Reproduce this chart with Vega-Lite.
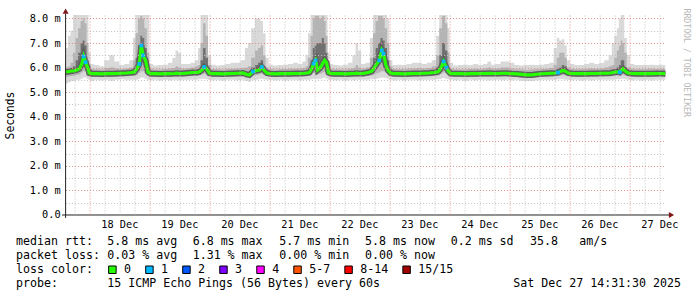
{
  "$schema": "https://vega.github.io/schema/vega-lite/v6.json",
  "background": "white",
  "padding": {"left": 3.6, "top": 8, "right": 0, "bottom": 0},
  "config": {"view": {"stroke": null}},
  "spacing": 5,
  "datasets": {
    "ping": [
      {"t":"2025-12-17T14:00Z","lo":5.3,"a":5.62,"m":5.82,"c":5.88,"b":5.98,"hi":6.5},
      {"t":"2025-12-17T15:00Z","lo":5.35,"a":5.63,"m":5.83,"c":5.9,"b":6.0,"hi":6.8},
      {"t":"2025-12-17T16:00Z","lo":5.4,"a":5.64,"m":5.84,"c":5.92,"b":6.05,"hi":7.3},
      {"t":"2025-12-17T17:00Z","lo":5.45,"a":5.66,"m":5.86,"c":5.95,"b":6.2,"hi":7.5},
      {"t":"2025-12-17T18:00Z","lo":5.45,"a":5.67,"m":5.87,"c":6.05,"b":6.6,"hi":8.3},
      {"t":"2025-12-17T19:00Z","lo":5.5,"a":5.7,"m":5.9,"c":6.3,"b":7.2,"hi":8.3},
      {"t":"2025-12-17T20:00Z","lo":5.5,"a":5.72,"m":5.95,"c":6.6,"b":7.6,"hi":8.3},
      {"t":"2025-12-17T21:00Z","lo":5.55,"a":5.8,"m":6.15,"c":7.0,"b":7.9,"hi":8.3},
      {"t":"2025-12-17T21:45Z","lo":5.6,"a":5.85,"m":6.45,"c":7.1,"b":8.0,"hi":8.3,"l":1},
      {"t":"2025-12-17T22:30Z","lo":5.6,"a":5.85,"m":6.22,"c":6.9,"b":7.8,"hi":8.3,"l":1},
      {"t":"2025-12-17T23:20Z","lo":5.55,"a":5.72,"m":6.0,"c":6.3,"b":7.0,"hi":8.3},
      {"t":"2025-12-18T00:00Z","lo":5.5,"a":5.65,"m":5.78,"c":5.85,"b":6.1,"hi":6.6},
      {"t":"2025-12-18T01:00Z","lo":5.45,"a":5.62,"m":5.75,"c":5.81,"b":5.94,"hi":6.15},
      {"t":"2025-12-18T03:00Z","lo":5.5,"a":5.63,"m":5.75,"c":5.81,"b":5.93,"hi":6.1},
      {"t":"2025-12-18T05:00Z","lo":5.48,"a":5.62,"m":5.74,"c":5.8,"b":5.92,"hi":6.05},
      {"t":"2025-12-18T07:00Z","lo":5.5,"a":5.63,"m":5.75,"c":5.81,"b":5.98,"hi":6.3},
      {"t":"2025-12-18T09:00Z","lo":5.46,"a":5.62,"m":5.75,"c":5.81,"b":6.0,"hi":6.5},
      {"t":"2025-12-18T11:00Z","lo":5.5,"a":5.63,"m":5.76,"c":5.82,"b":5.96,"hi":6.25},
      {"t":"2025-12-18T13:00Z","lo":5.52,"a":5.64,"m":5.77,"c":5.83,"b":5.94,"hi":6.1},
      {"t":"2025-12-18T15:00Z","lo":5.5,"a":5.65,"m":5.78,"c":5.84,"b":5.96,"hi":6.15},
      {"t":"2025-12-18T17:00Z","lo":5.5,"a":5.66,"m":5.8,"c":5.86,"b":6.0,"hi":6.3},
      {"t":"2025-12-18T18:00Z","lo":5.5,"a":5.66,"m":5.82,"c":5.95,"b":6.3,"hi":7.2},
      {"t":"2025-12-18T19:00Z","lo":5.5,"a":5.7,"m":5.95,"c":6.4,"b":7.4,"hi":8.3},
      {"t":"2025-12-18T20:00Z","lo":5.55,"a":5.78,"m":6.15,"c":6.9,"b":8.0,"hi":8.3,"l":1},
      {"t":"2025-12-18T20:50Z","lo":5.6,"a":5.85,"m":6.9,"c":7.3,"b":8.1,"hi":8.3,"l":1},
      {"t":"2025-12-18T21:30Z","lo":5.6,"a":5.85,"m":6.5,"c":7.2,"b":8.0,"hi":8.3,"l":1},
      {"t":"2025-12-18T22:30Z","lo":5.55,"a":5.78,"m":6.29,"c":6.8,"b":7.6,"hi":8.3},
      {"t":"2025-12-18T23:30Z","lo":5.5,"a":5.66,"m":5.82,"c":5.95,"b":6.6,"hi":8.3},
      {"t":"2025-12-19T00:30Z","lo":5.48,"a":5.63,"m":5.75,"c":5.81,"b":5.95,"hi":6.15},
      {"t":"2025-12-19T02:30Z","lo":5.5,"a":5.63,"m":5.75,"c":5.81,"b":5.92,"hi":6.08},
      {"t":"2025-12-19T04:30Z","lo":5.47,"a":5.62,"m":5.74,"c":5.8,"b":5.92,"hi":6.1},
      {"t":"2025-12-19T06:30Z","lo":5.5,"a":5.63,"m":5.75,"c":5.81,"b":5.94,"hi":6.12},
      {"t":"2025-12-19T08:30Z","lo":5.48,"a":5.63,"m":5.75,"c":5.81,"b":5.95,"hi":6.2},
      {"t":"2025-12-19T10:00Z","lo":5.5,"a":5.64,"m":5.76,"c":5.82,"b":5.98,"hi":6.4},
      {"t":"2025-12-19T11:00Z","lo":5.5,"a":5.65,"m":5.77,"c":5.83,"b":6.05,"hi":6.7},
      {"t":"2025-12-19T12:00Z","lo":5.48,"a":5.64,"m":5.76,"c":5.82,"b":6.0,"hi":6.6},
      {"t":"2025-12-19T13:30Z","lo":5.5,"a":5.64,"m":5.76,"c":5.82,"b":5.95,"hi":6.15},
      {"t":"2025-12-19T15:30Z","lo":5.5,"a":5.65,"m":5.78,"c":5.84,"b":5.97,"hi":6.15},
      {"t":"2025-12-19T17:30Z","lo":5.5,"a":5.66,"m":5.8,"c":5.86,"b":6.0,"hi":6.2},
      {"t":"2025-12-19T19:00Z","lo":5.5,"a":5.66,"m":5.8,"c":5.88,"b":6.05,"hi":6.3},
      {"t":"2025-12-19T20:00Z","lo":5.52,"a":5.68,"m":5.82,"c":5.92,"b":6.1,"hi":6.8},
      {"t":"2025-12-19T21:00Z","lo":5.55,"a":5.72,"m":5.9,"c":6.3,"b":7.0,"hi":8.3},
      {"t":"2025-12-19T22:00Z","lo":5.55,"a":5.75,"m":6.02,"c":6.8,"b":7.8,"hi":8.3,"l":1},
      {"t":"2025-12-19T23:00Z","lo":5.52,"a":5.72,"m":5.95,"c":6.4,"b":7.3,"hi":8.3},
      {"t":"2025-12-20T00:00Z","lo":5.5,"a":5.65,"m":5.78,"c":5.86,"b":6.1,"hi":6.5},
      {"t":"2025-12-20T01:30Z","lo":5.48,"a":5.63,"m":5.75,"c":5.81,"b":5.94,"hi":6.12},
      {"t":"2025-12-20T03:30Z","lo":5.5,"a":5.63,"m":5.75,"c":5.81,"b":5.93,"hi":6.08},
      {"t":"2025-12-20T05:30Z","lo":5.47,"a":5.62,"m":5.74,"c":5.8,"b":5.92,"hi":6.1},
      {"t":"2025-12-20T07:30Z","lo":5.5,"a":5.63,"m":5.75,"c":5.81,"b":5.94,"hi":6.15},
      {"t":"2025-12-20T09:30Z","lo":5.5,"a":5.63,"m":5.76,"c":5.82,"b":5.95,"hi":6.2},
      {"t":"2025-12-20T11:30Z","lo":5.48,"a":5.64,"m":5.77,"c":5.83,"b":5.96,"hi":6.2},
      {"t":"2025-12-20T13:30Z","lo":5.5,"a":5.65,"m":5.78,"c":5.84,"b":5.98,"hi":6.3},
      {"t":"2025-12-20T15:00Z","lo":5.45,"a":5.6,"m":5.72,"c":5.8,"b":6.0,"hi":6.8},
      {"t":"2025-12-20T16:00Z","lo":5.42,"a":5.58,"m":5.7,"c":5.8,"b":6.05,"hi":7.0},
      {"t":"2025-12-20T17:30Z","lo":5.5,"a":5.68,"m":5.84,"c":6.0,"b":6.4,"hi":7.6,"l":1},
      {"t":"2025-12-20T19:00Z","lo":5.5,"a":5.7,"m":5.88,"c":6.1,"b":6.7,"hi":8.0},
      {"t":"2025-12-20T20:00Z","lo":5.52,"a":5.72,"m":5.9,"c":6.2,"b":6.8,"hi":8.0},
      {"t":"2025-12-20T21:00Z","lo":5.55,"a":5.75,"m":6.02,"c":6.3,"b":6.9,"hi":7.9,"l":1},
      {"t":"2025-12-20T22:00Z","lo":5.52,"a":5.7,"m":5.88,"c":6.05,"b":6.5,"hi":7.4},
      {"t":"2025-12-20T23:00Z","lo":5.5,"a":5.66,"m":5.78,"c":5.85,"b":6.0,"hi":6.4},
      {"t":"2025-12-21T00:30Z","lo":5.5,"a":5.63,"m":5.75,"c":5.81,"b":5.94,"hi":6.12},
      {"t":"2025-12-21T02:30Z","lo":5.48,"a":5.62,"m":5.74,"c":5.8,"b":5.92,"hi":6.08},
      {"t":"2025-12-21T04:30Z","lo":5.5,"a":5.63,"m":5.75,"c":5.81,"b":5.93,"hi":6.1},
      {"t":"2025-12-21T06:30Z","lo":5.47,"a":5.62,"m":5.75,"c":5.81,"b":5.94,"hi":6.12},
      {"t":"2025-12-21T08:30Z","lo":5.5,"a":5.63,"m":5.75,"c":5.81,"b":5.95,"hi":6.15},
      {"t":"2025-12-21T10:30Z","lo":5.5,"a":5.64,"m":5.76,"c":5.82,"b":5.95,"hi":6.2},
      {"t":"2025-12-21T12:30Z","lo":5.48,"a":5.64,"m":5.76,"c":5.82,"b":5.96,"hi":6.15},
      {"t":"2025-12-21T14:00Z","lo":5.5,"a":5.65,"m":5.77,"c":5.83,"b":5.98,"hi":6.25},
      {"t":"2025-12-21T15:00Z","lo":5.5,"a":5.66,"m":5.78,"c":5.85,"b":6.05,"hi":6.5},
      {"t":"2025-12-21T16:00Z","lo":5.5,"a":5.68,"m":5.8,"c":5.95,"b":6.4,"hi":7.4},
      {"t":"2025-12-21T17:00Z","lo":5.52,"a":5.72,"m":5.95,"c":6.3,"b":7.3,"hi":8.3},
      {"t":"2025-12-21T17:45Z","lo":5.55,"a":5.78,"m":6.16,"c":6.8,"b":8.0,"hi":8.3,"l":1},
      {"t":"2025-12-21T18:30Z","lo":5.55,"a":5.75,"m":6.29,"c":6.9,"b":8.1,"hi":8.3,"l":1},
      {"t":"2025-12-21T19:20Z","lo":5.52,"a":5.72,"m":5.9,"c":7.0,"b":8.1,"hi":8.3},
      {"t":"2025-12-21T20:30Z","lo":5.55,"a":5.75,"m":6.0,"c":7.0,"b":8.0,"hi":8.3},
      {"t":"2025-12-21T21:30Z","lo":5.58,"a":5.8,"m":6.2,"c":7.2,"b":8.1,"hi":8.3},
      {"t":"2025-12-21T22:10Z","lo":5.6,"a":5.82,"m":6.3,"c":7.0,"b":7.9,"hi":8.3},
      {"t":"2025-12-21T22:55Z","lo":5.55,"a":5.78,"m":6.2,"c":6.6,"b":7.3,"hi":8.3},
      {"t":"2025-12-21T23:40Z","lo":5.5,"a":5.66,"m":5.8,"c":5.9,"b":6.2,"hi":6.6},
      {"t":"2025-12-22T00:30Z","lo":5.5,"a":5.64,"m":5.76,"c":5.82,"b":5.95,"hi":6.15},
      {"t":"2025-12-22T02:30Z","lo":5.48,"a":5.62,"m":5.75,"c":5.81,"b":5.93,"hi":6.1},
      {"t":"2025-12-22T04:30Z","lo":5.5,"a":5.63,"m":5.75,"c":5.81,"b":5.92,"hi":6.08},
      {"t":"2025-12-22T06:30Z","lo":5.47,"a":5.62,"m":5.74,"c":5.8,"b":5.93,"hi":6.12},
      {"t":"2025-12-22T08:30Z","lo":5.5,"a":5.63,"m":5.75,"c":5.81,"b":5.95,"hi":6.2},
      {"t":"2025-12-22T10:00Z","lo":5.48,"a":5.64,"m":5.76,"c":5.82,"b":5.98,"hi":6.5},
      {"t":"2025-12-22T11:00Z","lo":5.5,"a":5.65,"m":5.77,"c":5.83,"b":6.1,"hi":7.0},
      {"t":"2025-12-22T12:00Z","lo":5.5,"a":5.64,"m":5.76,"c":5.82,"b":6.0,"hi":6.7},
      {"t":"2025-12-22T13:30Z","lo":5.5,"a":5.64,"m":5.76,"c":5.82,"b":5.95,"hi":6.15},
      {"t":"2025-12-22T15:30Z","lo":5.5,"a":5.66,"m":5.8,"c":5.86,"b":6.0,"hi":6.2},
      {"t":"2025-12-22T17:00Z","lo":5.52,"a":5.68,"m":5.85,"c":6.0,"b":6.4,"hi":7.2},
      {"t":"2025-12-22T18:00Z","lo":5.52,"a":5.72,"m":6.0,"c":6.4,"b":7.4,"hi":8.3},
      {"t":"2025-12-22T19:00Z","lo":5.55,"a":5.76,"m":6.15,"c":6.8,"b":7.9,"hi":8.3},
      {"t":"2025-12-22T20:00Z","lo":5.58,"a":5.8,"m":6.29,"c":7.0,"b":8.1,"hi":8.3,"l":1},
      {"t":"2025-12-22T21:00Z","lo":5.6,"a":5.85,"m":6.7,"c":7.2,"b":8.1,"hi":8.3,"l":1},
      {"t":"2025-12-22T21:40Z","lo":5.6,"a":5.85,"m":6.56,"c":7.1,"b":8.0,"hi":8.3,"l":1},
      {"t":"2025-12-22T22:40Z","lo":5.58,"a":5.8,"m":6.09,"c":6.8,"b":7.6,"hi":8.3},
      {"t":"2025-12-22T23:30Z","lo":5.55,"a":5.72,"m":5.9,"c":6.3,"b":7.0,"hi":8.0},
      {"t":"2025-12-23T00:30Z","lo":5.5,"a":5.65,"m":5.78,"c":5.85,"b":6.05,"hi":6.3},
      {"t":"2025-12-23T02:00Z","lo":5.48,"a":5.63,"m":5.75,"c":5.81,"b":5.94,"hi":6.1},
      {"t":"2025-12-23T04:00Z","lo":5.5,"a":5.63,"m":5.75,"c":5.81,"b":5.93,"hi":6.12},
      {"t":"2025-12-23T06:00Z","lo":5.47,"a":5.62,"m":5.74,"c":5.8,"b":5.94,"hi":6.1},
      {"t":"2025-12-23T08:00Z","lo":5.5,"a":5.63,"m":5.75,"c":5.81,"b":5.95,"hi":6.15},
      {"t":"2025-12-23T10:00Z","lo":5.5,"a":5.64,"m":5.76,"c":5.82,"b":5.96,"hi":6.2},
      {"t":"2025-12-23T12:00Z","lo":5.48,"a":5.64,"m":5.76,"c":5.82,"b":5.98,"hi":6.2},
      {"t":"2025-12-23T14:00Z","lo":5.5,"a":5.65,"m":5.77,"c":5.83,"b":5.96,"hi":6.15},
      {"t":"2025-12-23T16:00Z","lo":5.5,"a":5.65,"m":5.78,"c":5.84,"b":5.98,"hi":6.2},
      {"t":"2025-12-23T18:00Z","lo":5.5,"a":5.66,"m":5.8,"c":5.87,"b":6.05,"hi":6.3},
      {"t":"2025-12-23T19:30Z","lo":5.52,"a":5.68,"m":5.83,"c":6.0,"b":6.5,"hi":7.3},
      {"t":"2025-12-23T20:30Z","lo":5.55,"a":5.74,"m":5.95,"c":6.5,"b":7.6,"hi":8.3},
      {"t":"2025-12-23T21:45Z","lo":5.58,"a":5.8,"m":6.25,"c":7.0,"b":8.1,"hi":8.3,"l":1},
      {"t":"2025-12-23T22:50Z","lo":5.55,"a":5.76,"m":6.0,"c":6.7,"b":7.8,"hi":8.3,"l":1},
      {"t":"2025-12-23T23:40Z","lo":5.52,"a":5.68,"m":5.85,"c":6.0,"b":6.6,"hi":7.6},
      {"t":"2025-12-24T00:30Z","lo":5.5,"a":5.64,"m":5.76,"c":5.82,"b":5.96,"hi":6.2},
      {"t":"2025-12-24T02:30Z","lo":5.48,"a":5.62,"m":5.75,"c":5.81,"b":5.93,"hi":6.08},
      {"t":"2025-12-24T04:30Z","lo":5.5,"a":5.63,"m":5.75,"c":5.81,"b":5.92,"hi":6.1},
      {"t":"2025-12-24T06:30Z","lo":5.46,"a":5.62,"m":5.74,"c":5.8,"b":5.93,"hi":6.12},
      {"t":"2025-12-24T08:30Z","lo":5.5,"a":5.63,"m":5.75,"c":5.81,"b":5.94,"hi":6.1},
      {"t":"2025-12-24T10:30Z","lo":5.48,"a":5.63,"m":5.75,"c":5.81,"b":5.95,"hi":6.15},
      {"t":"2025-12-24T12:30Z","lo":5.5,"a":5.63,"m":5.76,"c":5.82,"b":5.94,"hi":6.1},
      {"t":"2025-12-24T14:30Z","lo":5.5,"a":5.64,"m":5.76,"c":5.82,"b":5.96,"hi":6.15},
      {"t":"2025-12-24T16:00Z","lo":5.48,"a":5.64,"m":5.77,"c":5.83,"b":6.0,"hi":6.25},
      {"t":"2025-12-24T17:30Z","lo":5.5,"a":5.64,"m":5.76,"c":5.82,"b":5.95,"hi":6.12},
      {"t":"2025-12-24T19:30Z","lo":5.5,"a":5.64,"m":5.76,"c":5.82,"b":5.96,"hi":6.15},
      {"t":"2025-12-24T21:30Z","lo":5.48,"a":5.64,"m":5.77,"c":5.83,"b":6.0,"hi":6.25},
      {"t":"2025-12-24T23:00Z","lo":5.5,"a":5.64,"m":5.77,"c":5.83,"b":6.0,"hi":6.25},
      {"t":"2025-12-25T01:00Z","lo":5.48,"a":5.63,"m":5.75,"c":5.81,"b":5.96,"hi":6.2},
      {"t":"2025-12-25T03:00Z","lo":5.5,"a":5.62,"m":5.74,"c":5.8,"b":5.93,"hi":6.1},
      {"t":"2025-12-25T05:00Z","lo":5.46,"a":5.6,"m":5.72,"c":5.78,"b":5.92,"hi":6.08},
      {"t":"2025-12-25T07:00Z","lo":5.45,"a":5.58,"m":5.7,"c":5.77,"b":5.9,"hi":6.1},
      {"t":"2025-12-25T09:00Z","lo":5.45,"a":5.58,"m":5.7,"c":5.77,"b":5.92,"hi":6.12},
      {"t":"2025-12-25T11:00Z","lo":5.48,"a":5.61,"m":5.73,"c":5.79,"b":5.93,"hi":6.1},
      {"t":"2025-12-25T13:00Z","lo":5.5,"a":5.63,"m":5.75,"c":5.81,"b":5.94,"hi":6.12},
      {"t":"2025-12-25T15:00Z","lo":5.5,"a":5.63,"m":5.76,"c":5.82,"b":5.95,"hi":6.15},
      {"t":"2025-12-25T17:00Z","lo":5.5,"a":5.64,"m":5.77,"c":5.83,"b":5.98,"hi":6.2},
      {"t":"2025-12-25T18:30Z","lo":5.5,"a":5.65,"m":5.78,"c":5.85,"b":6.1,"hi":6.8},
      {"t":"2025-12-25T19:30Z","lo":5.52,"a":5.66,"m":5.8,"c":5.95,"b":6.4,"hi":7.2,"l":1},
      {"t":"2025-12-25T20:30Z","lo":5.52,"a":5.68,"m":5.84,"c":6.0,"b":6.6,"hi":7.1},
      {"t":"2025-12-25T21:30Z","lo":5.52,"a":5.7,"m":5.88,"c":6.1,"b":6.6,"hi":7.15},
      {"t":"2025-12-25T22:30Z","lo":5.5,"a":5.68,"m":5.85,"c":6.05,"b":6.4,"hi":6.9},
      {"t":"2025-12-25T23:30Z","lo":5.5,"a":5.65,"m":5.78,"c":5.85,"b":6.0,"hi":6.3},
      {"t":"2025-12-26T01:00Z","lo":5.48,"a":5.63,"m":5.76,"c":5.82,"b":5.95,"hi":6.15},
      {"t":"2025-12-26T03:00Z","lo":5.5,"a":5.63,"m":5.75,"c":5.81,"b":5.93,"hi":6.1},
      {"t":"2025-12-26T05:00Z","lo":5.47,"a":5.62,"m":5.75,"c":5.81,"b":5.94,"hi":6.1},
      {"t":"2025-12-26T07:00Z","lo":5.5,"a":5.63,"m":5.75,"c":5.81,"b":5.95,"hi":6.15},
      {"t":"2025-12-26T09:00Z","lo":5.48,"a":5.63,"m":5.76,"c":5.82,"b":5.96,"hi":6.2},
      {"t":"2025-12-26T11:00Z","lo":5.5,"a":5.64,"m":5.76,"c":5.82,"b":5.95,"hi":6.15},
      {"t":"2025-12-26T13:00Z","lo":5.5,"a":5.64,"m":5.77,"c":5.83,"b":5.96,"hi":6.2},
      {"t":"2025-12-26T15:00Z","lo":5.5,"a":5.65,"m":5.77,"c":5.84,"b":6.0,"hi":6.3},
      {"t":"2025-12-26T16:30Z","lo":5.5,"a":5.65,"m":5.78,"c":5.86,"b":6.05,"hi":6.5},
      {"t":"2025-12-26T17:30Z","lo":5.5,"a":5.66,"m":5.8,"c":5.88,"b":6.1,"hi":7.0},
      {"t":"2025-12-26T18:30Z","lo":5.52,"a":5.67,"m":5.82,"c":5.95,"b":6.4,"hi":7.3},
      {"t":"2025-12-26T19:30Z","lo":5.52,"a":5.68,"m":5.83,"c":6.0,"b":6.7,"hi":7.6},
      {"t":"2025-12-26T20:10Z","lo":5.52,"a":5.68,"m":5.81,"c":6.1,"b":6.9,"hi":8.0,"l":1},
      {"t":"2025-12-26T21:00Z","lo":5.55,"a":5.72,"m":5.92,"c":6.3,"b":7.1,"hi":8.3},
      {"t":"2025-12-26T21:30Z","lo":5.55,"a":5.72,"m":5.95,"c":6.3,"b":7.0,"hi":8.2},
      {"t":"2025-12-26T22:30Z","lo":5.52,"a":5.68,"m":5.85,"c":6.0,"b":6.6,"hi":7.2},
      {"t":"2025-12-26T23:30Z","lo":5.5,"a":5.65,"m":5.78,"c":5.85,"b":6.0,"hi":6.5},
      {"t":"2025-12-27T01:00Z","lo":5.48,"a":5.63,"m":5.76,"c":5.82,"b":5.95,"hi":6.15},
      {"t":"2025-12-27T03:00Z","lo":5.5,"a":5.63,"m":5.75,"c":5.81,"b":5.93,"hi":6.1},
      {"t":"2025-12-27T05:00Z","lo":5.47,"a":5.62,"m":5.75,"c":5.81,"b":5.93,"hi":6.1},
      {"t":"2025-12-27T07:00Z","lo":5.5,"a":5.63,"m":5.75,"c":5.81,"b":5.94,"hi":6.1},
      {"t":"2025-12-27T09:00Z","lo":5.48,"a":5.63,"m":5.75,"c":5.81,"b":5.95,"hi":6.12},
      {"t":"2025-12-27T11:00Z","lo":5.5,"a":5.63,"m":5.76,"c":5.82,"b":5.94,"hi":6.1},
      {"t":"2025-12-27T13:00Z","lo":5.5,"a":5.64,"m":5.76,"c":5.82,"b":5.95,"hi":6.12},
      {"t":"2025-12-27T14:30Z","lo":5.5,"a":5.63,"m":5.75,"c":5.81,"b":5.94,"hi":6.1}
    ],
    "frame": [
      {"t":"2025-12-17T14:31:30Z","t2":"2025-12-17T14:31:30Z","v":-0.12,"v2":8.2},
      {"t":"2025-12-17T13:05:00Z","t2":"2025-12-27T16:00:00Z","v":0,"v2":0}
    ],
    "arrows": [
      {"t":"2025-12-17T14:31:30Z","v":8.3,"s":"up"},
      {"t":"2025-12-27T16:53:00Z","v":0,"s":"right"}
    ],
    "leg": [
      {"r":1,"c":0,"s":"median rtt:"},
      {"r":1,"c":13.04,"s":"5.8 ms avg"},
      {"r":1,"c":25.24,"s":"6.8 ms max"},
      {"r":1,"c":37.61,"s":"5.7 ms min"},
      {"r":1,"c":49.86,"s":"5.8 ms now"},
      {"r":1,"c":62.1,"s":"0.2 ms sd"},
      {"r":1,"c":73.43,"s":"35.8"},
      {"r":1,"c":80.47,"s":"am/s"},
      {"r":2,"c":0,"s":"packet loss:"},
      {"r":2,"c":13.04,"s":"0.03 % avg"},
      {"r":2,"c":25.24,"s":"1.31 % max"},
      {"r":2,"c":37.61,"s":"0.00 % min"},
      {"r":2,"c":49.86,"s":"0.00 % now"},
      {"r":3,"c":0,"s":"loss color:"},
      {"r":3,"c":15.43,"s":"0"},
      {"r":3,"c":20.72,"s":"1"},
      {"r":3,"c":26.01,"s":"2"},
      {"r":3,"c":31.3,"s":"3"},
      {"r":3,"c":36.59,"s":"4"},
      {"r":3,"c":41.88,"s":"5-7"},
      {"r":3,"c":49.17,"s":"8-14"},
      {"r":3,"c":57.46,"s":"15/15"},
      {"r":4,"c":0,"s":"probe:"},
      {"r":4,"c":13.04,"s":"15 ICMP Echo Pings (56 Bytes) every 60s"},
      {"r":4,"c":71.04,"s":"Sat Dec 27 14:31:30 2025"}
    ],
    "sq": [
      {"r":3,"c":13.77,"k":"0"},
      {"r":3,"c":19.06,"k":"1"},
      {"r":3,"c":24.35,"k":"2"},
      {"r":3,"c":29.64,"k":"3"},
      {"r":3,"c":34.93,"k":"4"},
      {"r":3,"c":40.22,"k":"5-7"},
      {"r":3,"c":47.51,"k":"8-14"},
      {"r":3,"c":55.8,"k":"15/15"}
    ]
  },
  "vconcat": [
    {
      "width": 600,
      "height": 200,
      "title": {"text": "RRDTOOL / TOBI OETIKER", "orient": "right", "anchor": "start", "frame": "bounds", "font": "DejaVu Sans Mono", "fontSize": 8.2, "fontWeight": "normal", "color": "#b8b8b8", "offset": 4},
      "data": {"name": "ping"},
      "resolve": {"axis": {"x": "independent", "y": "independent"}},
      "layer": [
        {
          "mark": {"type": "area", "color": "#d9d9d9", "clip": true, "interpolate": "step"},
          "encoding": {
            "x": {"field": "t", "type": "temporal",
              "scale": {"type": "utc", "domain": [1765981890000, 1766845890000], "nice": false},
              "axis": {"orient": "bottom", "labels": false, "ticks": false, "domain": false, "grid": true, "gridColor": "#c0c0c0", "gridDash": [1, 2], "title": null, "zindex": 1,
                "values": [1765994400000, 1766037600000, 1766059200000, 1766080800000, 1766124000000, 1766145600000, 1766167200000, 1766210400000, 1766232000000, 1766253600000, 1766296800000, 1766318400000, 1766340000000, 1766383200000, 1766404800000, 1766426400000, 1766469600000, 1766491200000, 1766512800000, 1766556000000, 1766577600000, 1766599200000, 1766642400000, 1766664000000, 1766685600000, 1766728800000, 1766750400000, 1766772000000, 1766815200000, 1766836800000]}},
            "y": {"field": "lo", "type": "quantitative",
              "scale": {"domain": [0, 8.14], "nice": false, "zero": false},
              "axis": {"orient": "left", "labels": false, "ticks": false, "domain": false, "grid": true, "gridColor": "#c0c0c0", "gridDash": [1, 2], "values": [0.5, 1.5, 2.5, 3.5, 4.5, 5.5, 6.5, 7.5], "title": null, "zindex": 1}},
            "y2": {"field": "hi"}
          }
        },
        {
          "mark": {"type": "area", "color": "#b4b4b4", "clip": true, "interpolate": "step"},
          "encoding": {
            "x": {"field": "t", "type": "temporal",
              "axis": {"orient": "bottom", "labels": false, "ticks": false, "domain": false, "grid": true, "gridColor": "#e08c8c", "gridDash": [1, 2], "title": null, "zindex": 1,
                "values": [1766016000000, 1766102400000, 1766188800000, 1766275200000, 1766361600000, 1766448000000, 1766534400000, 1766620800000, 1766707200000, 1766793600000]}},
            "y": {"field": "a", "type": "quantitative",
              "axis": {"orient": "left", "labels": false, "ticks": false, "domain": false, "grid": true, "gridColor": "#e08c8c", "gridDash": [1, 2], "values": [1, 2, 3, 4, 5, 6, 7, 8], "title": null, "zindex": 1}},
            "y2": {"field": "b"}
          }
        },
        {
          "mark": {"type": "area", "color": "#707070", "clip": true, "interpolate": "step"},
          "encoding": {
            "x": {"field": "t", "type": "temporal",
              "axis": {"orient": "bottom", "grid": false, "ticks": false, "domain": false, "title": null,
                "values": [1766059200000, 1766145600000, 1766232000000, 1766318400000, 1766404800000, 1766491200000, 1766577600000, 1766664000000, 1766750400000, 1766836800000],
                "format": "%d %b", "labelFont": "DejaVu Sans Mono", "labelFontSize": 10.3, "labelColor": "#000000", "labelPadding": 4.5, "labelFlush": false, "labelOverlap": false, "labelBound": false}},
            "y": {"field": "m", "type": "quantitative",
              "axis": {"orient": "left", "grid": false, "ticks": false, "domain": false,
                "values": [0, 1, 2, 3, 4, 5, 6, 7, 8],
                "labelExpr": "datum.value == 0 ? '0.0\u00a0\u00a0' : format(datum.value, '.1f') + ' m'",
                "labelFont": "DejaVu Sans Mono", "labelFontSize": 10.3, "labelColor": "#000000", "labelPadding": 5.5,
                "title": "Seconds", "titleFont": "DejaVu Sans Mono", "titleFontSize": 11.4, "titleFontWeight": "normal", "titleColor": "#000000", "titlePadding": 14}},
            "y2": {"field": "c"}
          }
        },
        {
          "mark": {"type": "line", "color": "#5e5e5e", "strokeWidth": 6, "clip": true},
          "encoding": {
            "x": {"field": "t", "type": "temporal", "axis": null},
            "y": {"field": "m", "type": "quantitative", "axis": null}
          }
        },
        {
          "mark": {"type": "line", "color": "#26ff00", "strokeWidth": 3.2, "clip": true},
          "encoding": {
            "x": {"field": "t", "type": "temporal", "axis": null},
            "y": {"field": "m", "type": "quantitative", "axis": null}
          }
        },
        {
          "transform": [{"filter": "datum.l == 1"}],
          "mark": {"type": "point", "shape": "square", "filled": true, "size": 14, "color": "#00b8ff", "opacity": 1},
          "encoding": {
            "x": {"field": "t", "type": "temporal", "axis": null},
            "y": {"field": "m", "type": "quantitative", "axis": null}
          }
        },
        {
          "data": {"name": "frame"},
          "mark": {"type": "rule", "color": "#222222", "strokeWidth": 1},
          "encoding": {
            "x": {"field": "t", "type": "temporal", "axis": null},
            "x2": {"field": "t2"},
            "y": {"field": "v", "type": "quantitative", "axis": null},
            "y2": {"field": "v2"}
          }
        },
        {
          "data": {"name": "arrows"},
          "mark": {"type": "point", "filled": true, "size": 36, "color": "#801818", "opacity": 1},
          "encoding": {
            "x": {"field": "t", "type": "temporal", "axis": null},
            "y": {"field": "v", "type": "quantitative", "axis": null},
            "shape": {"field": "s", "type": "nominal", "scale": {"domain": ["up", "right"], "range": ["triangle-up", "triangle-right"]}, "legend": null}
          }
        }
      ]
    },
    {
      "width": 600,
      "height": 55.6,
      "layer": [
        {
          "data": {"name": "leg"},
          "mark": {"type": "text", "align": "left", "baseline": "middle", "font": "DejaVu Sans Mono", "fontSize": 11.63, "color": "#000000"},
          "encoding": {
            "x": {"field": "c", "type": "quantitative", "scale": {"domain": [7.086, 92.8], "nice": false, "zero": false}, "axis": null},
            "y": {"field": "r", "type": "quantitative", "scale": {"domain": [4.5, 0.5], "nice": false, "zero": false}, "axis": null},
            "text": {"field": "s"}
          }
        },
        {
          "data": {"name": "sq"},
          "mark": {"type": "point", "shape": "square", "filled": true, "size": 56, "stroke": "#000000", "strokeWidth": 1, "opacity": 1},
          "encoding": {
            "x": {"field": "c", "type": "quantitative", "axis": null},
            "y": {"field": "r", "type": "quantitative", "axis": null},
            "fill": {"field": "k", "type": "nominal",
              "scale": {"domain": ["0", "1", "2", "3", "4", "5-7", "8-14", "15/15"], "range": ["#26ff00", "#00b8ff", "#0059ff", "#7e00ff", "#ff00ff", "#ff5500", "#ff0000", "#a10000"]},
              "legend": null}
          }
        }
      ]
    }
  ]
}
